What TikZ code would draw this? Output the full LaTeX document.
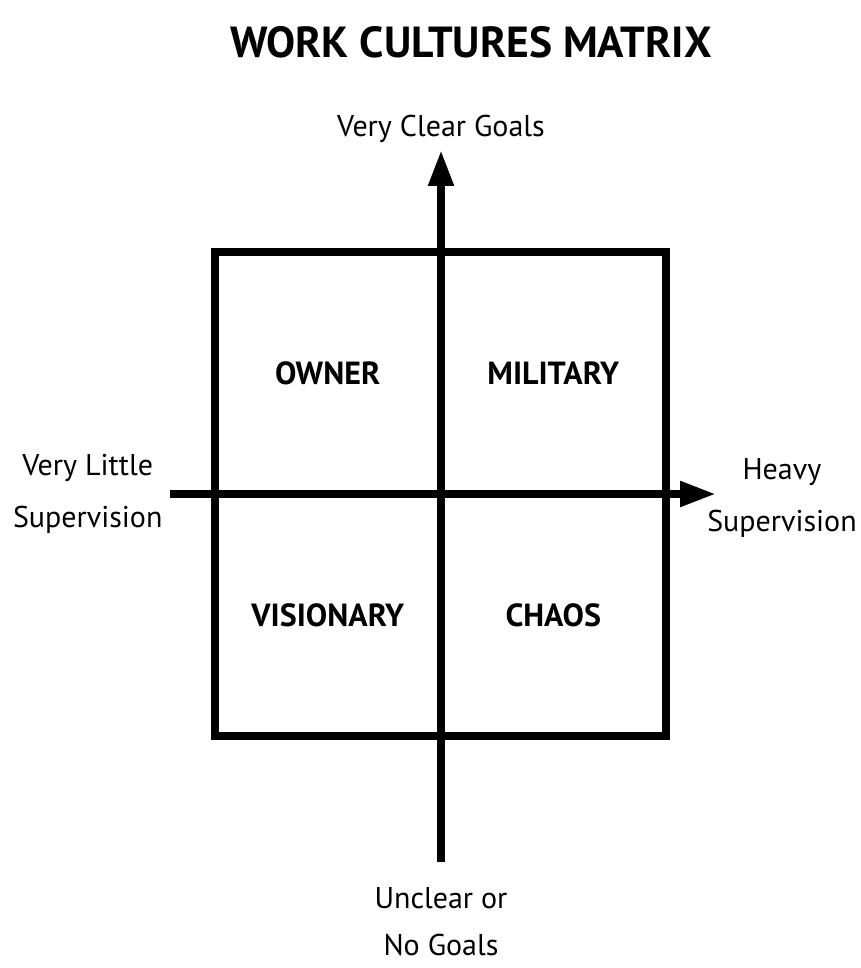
\documentclass[tikz,border=0pt]{standalone}
\usepackage{fontspec}
\setmainfont{PT Sans}
\usetikzlibrary{matrix, positioning, fit, calc, arrows.meta}

\begin{document}
\begin{tikzpicture}[
    x=1pt, y=-1pt,
    axis/.style={line width=8pt, -{Triangle[length=36pt, width=24pt]}},
    side/.style={font=\fontsize{30}{52}\selectfont, align=center},
    quadrants/.style={
        matrix of nodes,
        inner sep=0pt,
        column sep=0pt,
        row sep=0pt,
        nodes={minimum width=225.5pt, minimum height=242pt, anchor=center,
               font=\fontsize{32}{38}\selectfont\bfseries},
      }
  ]
  \useasboundingbox (0,0) rectangle (861,968);

  \node[font=\fontsize{43.5}{50}\selectfont\bfseries] (title) at (471,42) {WORK CULTURES MATRIX};

  \matrix[quadrants] at (440.5,494)
  (cultures)
  {
    OWNER & MILITARY \\
    VISIONARY & CHAOS \\
  };

  \node[fit=(cultures), draw, line width=8pt, inner sep=0pt] (frame) {};

  \coordinate (goals-top) at (441,150);
  \coordinate (goals-bottom) at (441,862);
  \coordinate (super-left) at (170,494);
  \coordinate (super-right) at (716,494);

  \draw[axis] (goals-bottom) -- (goals-top);
  \draw[axis] (super-left) -- (super-right);

  \node[side, above=4pt of goals-top] (clear) {Very Clear Goals};
  \node[side, font=\fontsize{30}{47}\selectfont, below=22pt of goals-bottom] (unclear) {Unclear or \\ No Goals};
  \node[side, left=4pt of super-left] (little) {Very Little \\ Supervision};
  \node[side] (heavy) at ($(super-right)+(66,4)$) {Heavy \\ Supervision};
\end{tikzpicture}
\end{document}
